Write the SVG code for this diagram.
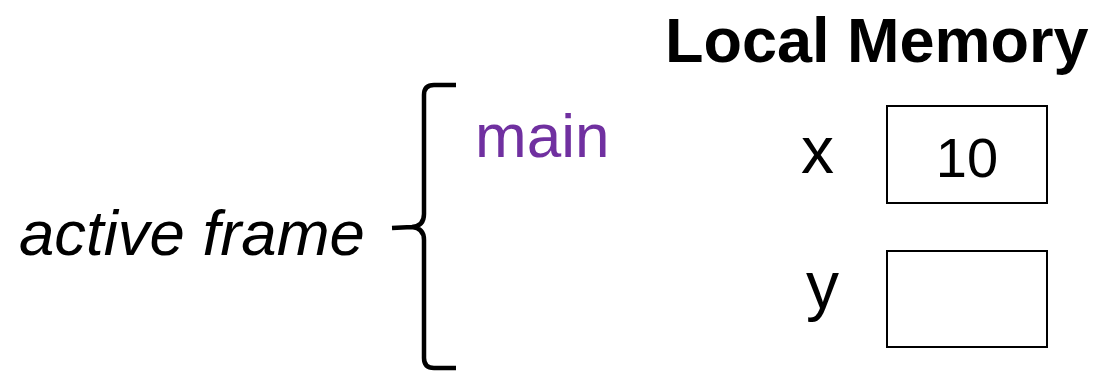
<svg xmlns="http://www.w3.org/2000/svg" width="1096" height="374" viewBox="0 0 1096 374">
<style>
text{font-family:"Liberation Sans",Arial,sans-serif;fill:#000}
.box{fill:#fff;stroke:#000;stroke-width:2}
.brace{fill:none;stroke:#000;stroke-width:4.5;stroke-linecap:butt;stroke-linejoin:round}
</style>
<rect width="1096" height="374" fill="#fff"/>
<g id="title"><text x="665" y="62" font-size="63" font-weight="bold">Local Memory</text></g>
<g id="active-frame"><text x="19" y="255" font-size="63.5" font-style="italic">active frame</text></g>
<g id="brace"><path class="brace" d="M456,85 L434,85 Q424,85 424,95 L424,214 Q424,226 412,227 L392,228 M412,227 Q424,228 424,240 L424,358 Q424,368 434,368 L456,368"/></g>
<g id="main"><text x="475" y="157" font-size="62" fill="#7030A0" style="fill:#7030A0">main</text></g>
<g id="var-x"><text x="801" y="173" font-size="66">x</text><rect class="box" x="887" y="106" width="160" height="97"/><text x="967" y="177" font-size="56" text-anchor="middle">10</text></g>
<g id="var-y"><text x="806" y="308" font-size="66">y</text><rect class="box" x="887" y="251" width="160" height="96"/></g>
<g id="connectors"></g>
</svg>
